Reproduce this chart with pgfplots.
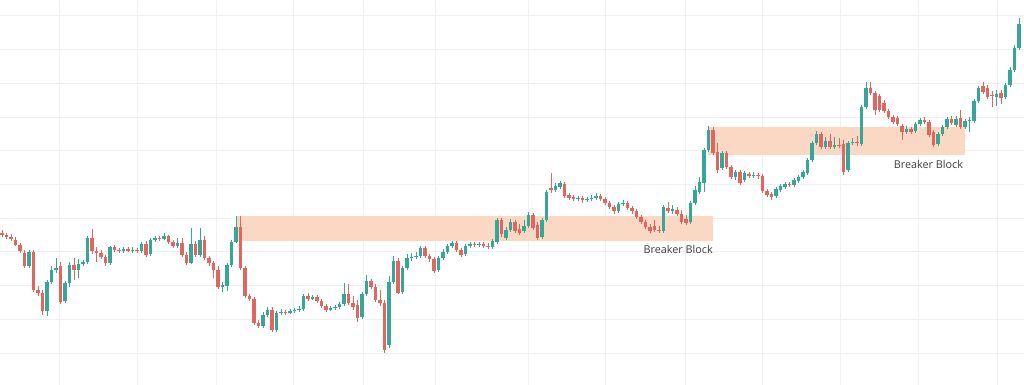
\documentclass[border=0pt]{standalone}
\usepackage{pgfplots}
\pgfplotsset{compat=1.18}
\usepackage{pgfplotstable}
\usepackage{fontspec}
\newfontfamily\labelfont{Open Sans}
\definecolor{bull}{RGB}{56,166,151}
\definecolor{bear}{RGB}{224,102,96}
\definecolor{zone}{RGB}{251,216,196}
\definecolor{gridc}{RGB}{240,240,242}
\definecolor{labelc}{RGB}{60,60,60}
% columns: bar index, open, high, low, close (vertical pixel positions, top = 0)
\pgfplotstableread{
i o h l c
0 233 230 237 235
1 235 233 239 237
2 237 234 241 239
3 240 237 246 245
4 245 243 253 251
5 253 250 268 266
6 266 250 268 252
7 252 250 292 290
8 290 286 296 293
9 293 290 315 311
10 311 280 316 282
11 282 266 284 270
12 270 258 273 268
13 266 262 304 302
14 301 281 303 283
15 283 262 287 265
16 265 258 280 270
17 270 259 278 264
18 264 260 266 262
19 262 236 264 238
20 238 229 254 251
21 251 247 262 253
22 253 250 259 257
23 257 255 266 263
24 263 246 265 247
25 247 245 252 250
26 250 248 253 251
27 251 247 253 249
28 249 247 252 251
29 251 247 253 250
30 250 248 253 251
31 251 242 253 244
32 244 241 257 255
33 254 238 256 240
34 240 236 242 238
35 238 236 241 239
36 239 233 240 236
37 236 235 244 242
38 242 240 248 246
39 246 238 248 243
40 243 238 257 255
41 255 252 265 263
42 263 228 264 244
43 244 241 257 255
44 255 228 257 240
45 240 236 260 258
46 258 256 266 263
47 263 261 278 270
48 270 266 289 287
49 287 282 292 285
50 286 263 291 265
51 265 240 267 242
52 242 216 243 227
53 227 216 270 268
54 268 266 298 296
55 296 294 301 299
56 299 297 325 323
57 323 320 328 326
58 326 312 328 315
59 315 307 317 310
60 310 307 332 330
61 330 311 332 313
62 313 309 315 312
63 312 310 315 313
64 313 309 314 311
65 311 308 313 310
66 310 306 312 309
67 309 294 311 296
68 296 293 301 299
69 299 295 300 297
70 297 295 303 301
71 301 299 308 306
72 306 304 312 310
73 310 306 311 308
74 308 305 310 307
75 307 302 309 304
76 304 283 306 294
77 294 284 305 303
78 303 296 310 307
79 305 300 322 318
80 317 292 319 294
81 294 275 296 281
82 281 279 289 287
83 287 284 302 300
84 300 290 306 303
85 303 300 353 350
86 345 276 348 282
87 282 256 284 261
88 261 258 294 293
89 292 266 294 268
90 268 254 270 258
91 258 253 261 257
92 257 252 259 256
93 256 246 258 248
94 248 246 258 256
95 256 254 262 259
96 259 257 273 271
97 270 256 272 258
98 258 249 260 252
99 252 244 254 246
100 246 241 248 243
101 243 241 252 250
102 250 248 257 255
103 254 244 256 246
104 246 242 248 244
105 244 242 247 245
106 245 242 247 244
107 244 242 248 246
108 246 243 249 247
109 247 239 249 241
110 242 218 244 220
111 220 218 237 234
112 238 227 240 230
113 230 219 232 222
114 222 220 233 231
115 229 224 235 233
116 231 220 233 226
117 226 212 228 215
118 215 213 230 228
119 225 222 240 238
120 237 218 239 220
121 220 190 222 192
122 188 173 193 190
123 190 183 192 186
124 187 181 189 183
125 184 182 198 196
126 195 193 200 198
127 197 195 201 199
128 199 196 201 198
129 198 196 203 200
130 200 197 202 199
131 199 195 201 198
132 198 193 200 196
133 196 194 201 199
134 199 197 205 203
135 203 201 209 207
136 207 205 214 211
137 211 202 213 204
138 204 200 206 203
139 203 201 210 208
140 208 206 214 211
141 211 209 219 217
142 217 215 224 222
143 222 220 229 227
144 227 224 233 231
145 226 220 232 230
146 230 226 233 231
147 231 205 233 207
148 208 202 213 211
149 211 205 214 209
150 210 207 216 214
151 214 210 224 222
152 219 215 225 223
153 222 201 224 203
154 203 186 205 190
155 192 177 194 182
156 183 148 192 150
157 150 126 152 130
158 130 127 155 153
159 152 143 173 170
160 168 151 170 153
161 153 151 169 167
162 167 165 179 177
163 177 170 180 172
164 172 170 185 183
165 180 171 182 173
166 174 172 178 176
167 176 172 178 175
168 175 173 179 176
169 176 174 193 191
170 191 189 197 195
171 194 192 200 197
172 196 187 198 189
173 190 184 192 186
174 187 182 189 184
175 184 182 187 185
176 185 178 187 180
177 181 175 183 177
178 177 170 179 172
179 173 158 175 160
180 160 141 162 143
181 143 131 145 134
182 134 132 149 147
183 147 137 149 141
184 141 134 149 147
185 147 137 149 145
186 145 138 148 146
187 144 140 175 172
188 170 141 172 143
189 143 138 145 142
190 142 136 146 143
191 144 105 146 107
192 107 82 109 88
193 88 82 95 93
194 93 91 115 110
195 96 94 112 110
196 103 100 113 111
197 111 109 119 117
198 117 115 124 122
199 118 116 126 124
200 126 124 140 132
201 132 126 134 129
202 129 127 134 132
203 131 122 133 124
204 124 118 126 120
205 120 117 124 122
206 122 120 137 135
207 132 130 147 145
208 144 132 146 134
209 134 125 136 127
210 127 117 129 119
211 119 116 125 123
212 125 116 127 119
213 118 110 129 127
214 127 119 129 121
215 121 117 132 120
216 121 99 123 101
217 101 86 103 88
218 86 82 94 92
219 88 85 99 97
220 95 91 107 96
221 97 90 106 94
222 93 90 104 98
223 97 83 99 85
224 85 67 87 70
225 70 45 72 48
226 48 18 50 24
}\candles
\begin{document}
\begin{tikzpicture}
\begin{axis}[
  scale only axis, width=768pt, height=288.75pt,
  xmin=-0.444, xmax=227.11, ymin=0, ymax=385, y dir=reverse,
  axis line style={draw=none}, tick style={draw=none},
  xtick={12.67,30,47.56,64.67,80.44,96.44,116.89,134.22,151.78,168.89,186.44,203.56,221.11},
  ytick={16,49.7,83.4,117.1,150.8,184.5,218.2,251.9,285.6,319.3,353},
  xticklabels={}, yticklabels={},
  grid=major, grid style={draw=gridc, line width=0.75pt},
  clip=true,
  colormap={candle}{color=(bear) color=(bull)},
  point meta min=0, point meta max=1,
]
\fill[zone] (axis cs:52.22,216) rectangle (axis cs:158,241);
\fill[zone] (axis cs:156.89,127) rectangle (axis cs:214,155);
\addplot[point meta={\thisrow{o}>\thisrow{c}},
  quiver={u=0, v=\thisrow{h}-\thisrow{l}, colored=mapped color,
    every arrow/.append style={line width=0.7pt}}]
  table[x=i, y=l] {\candles};
\addplot[point meta={\thisrow{o}>\thisrow{c}},
  quiver={u=0, v=\thisrow{c}-\thisrow{o}, colored=mapped color,
    every arrow/.append style={line width=2.4pt}}]
  table[x=i, y=o] {\candles};
\node[anchor=base east, inner sep=0pt, text=labelc, font=\labelfont\fontsize{8.1}{10}\selectfont] at (axis cs:158,253.5) {Breaker Block};
\node[anchor=base east, inner sep=0pt, text=labelc, font=\labelfont\fontsize{8.1}{10}\selectfont] at (axis cs:213.6,168) {Breaker Block};
\end{axis}
\pgfresetboundingbox
\path (current axis.south west) rectangle (current axis.north east);
\end{tikzpicture}
\end{document}
